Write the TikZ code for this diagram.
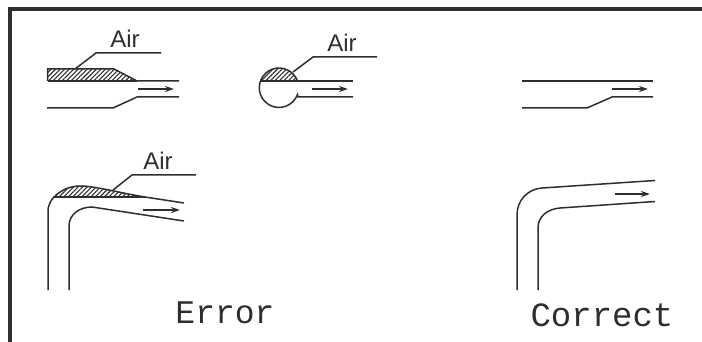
\documentclass[tikz,border=0pt]{standalone}
\usepackage{fontspec}
\setsansfont{Liberation Sans}
\setmonofont{Liberation Mono}
\usetikzlibrary{arrows.meta,patterns.meta}
\definecolor{FrameClr}{rgb}{0.2,0.18,0.18}
\definecolor{PipeClr}{rgb}{0.18,0.18,0.18}
\tikzset{
  pipe/.style={line width=1.5pt,color=PipeClr},
  flow/.style={line width=1.5pt,color=PipeClr,-{Stealth[length=9pt,width=6pt]}},
  hatched/.style={pattern={Lines[angle=45,distance=3.2pt,line width=1.1pt]},pattern color=PipeClr},
  airlbl/.style={font=\sffamily\fontsize{24}{24}\selectfont,color=PipeClr,inner sep=0pt},
  caption/.style={font=\ttfamily\fontsize{33}{33}\selectfont,color=PipeClr,inner sep=0pt},
}
\begin{document}
\begin{tikzpicture}[x=1pt,y=-1pt]
\useasboundingbox (0,0) rectangle (702,342);

\draw[line width=3.5pt,color=FrameClr] (10,342) -- (10,9) -- (702,9);

% straight inlet, top left
\coordinate (A1) at (47.5,69);
\coordinate (A2) at (114,69);
\coordinate (A3) at (137,81);
\coordinate (A4) at (47.5,81);
\coordinate (A5) at (179,81);
\coordinate (A6) at (47,108);
\coordinate (A7) at (113,108);
\coordinate (A8) at (137,97);
\coordinate (A9) at (179,97);
\fill[hatched] (A1) -- (A2) -- (A3) -- (A4) -- cycle;
\draw[pipe] (A4) -- (A1) -- (A2) -- (A3) -- (A5);
\draw[pipe] (A4) -- (A3);
\draw[pipe] (A6) -- (A7) -- (A8) -- (A9);
\coordinate (AF1) at (138,89);
\coordinate (AF2) at (174,89);
\draw[flow] (AF1) -- (AF2);
\coordinate (AL1) at (75,69);
\coordinate (AL2) at (96,53);
\coordinate (AL3) at (161,53);
\draw[pipe] (AL1) -- (AL2) -- (AL3);
\node[airlbl] (AirA) at (125,39) {Air};

% round bulge, top middle
\coordinate (B1) at (260.5,81);
\coordinate (B2) at (297.5,81);
\coordinate (B3) at (353,81);
\coordinate (B4) at (298,97);
\coordinate (B5) at (353,97);
\fill[hatched] (B1) arc[start angle=-160,end angle=-20,radius=19.7] -- cycle;
\draw[pipe] (B2) arc[start angle=-20,end angle=-340,radius=19.7] -- (B4) -- (B5);
\draw[pipe] (B1) -- (B3);
\coordinate (BF1) at (312,89);
\coordinate (BF2) at (348,89);
\draw[flow] (BF1) -- (BF2);
\coordinate (BL1) at (293,72);
\coordinate (BL2) at (313,57);
\coordinate (BL3) at (377,57);
\draw[pipe] (BL1) -- (BL2) -- (BL3);
\node[airlbl] (AirB) at (342,43) {Air};

% bend with trapped air, lower left
\coordinate (C1) at (48,290);
\coordinate (C2) at (48,209);
\coordinate (C3) at (54,197);
\coordinate (C4) at (80,186);
\coordinate (C5) at (145,197);
\coordinate (C6) at (184,203);
\coordinate (C7) at (69,290);
\coordinate (C8) at (69,226);
\coordinate (C9) at (92,207);
\coordinate (C10) at (184,221);
\fill[hatched] (C3) .. controls (61,190) and (70,186) .. (C4) .. controls (95,186) and (120,193) .. (C5) -- cycle;
\draw[pipe] (C1) -- (C2) .. controls (49,204) and (51,200) .. (C3) .. controls (61,190) and (70,186) .. (C4) .. controls (95,186) and (120,193) .. (C5) -- (C6);
\draw[pipe] (C3) -- (C5);
\draw[pipe] (C7) -- (C8) .. controls (69,214) and (80,207) .. (C9) -- (C10);
\coordinate (CF1) at (143,210);
\coordinate (CF2) at (180,210);
\draw[flow] (CF1) -- (CF2);
\coordinate (CL1) at (113,190);
\coordinate (CL2) at (132,175);
\coordinate (CL3) at (196,175);
\draw[pipe] (CL1) -- (CL2) -- (CL3);
\node[airlbl] (AirC) at (158,161) {Air};

% correct inlet, top right
\coordinate (D1) at (522,81);
\coordinate (D2) at (653,81);
\coordinate (D3) at (522,108);
\coordinate (D4) at (587,108);
\coordinate (D5) at (612,97);
\coordinate (D6) at (653,97);
\draw[pipe] (D1) -- (D2);
\draw[pipe] (D3) -- (D4) -- (D5) -- (D6);
\coordinate (DF1) at (612,89);
\coordinate (DF2) at (648,89);
\draw[flow] (DF1) -- (DF2);

% correct bend, lower right
\coordinate (E1) at (517,290);
\coordinate (E2) at (517,215);
\coordinate (E3) at (542,188);
\coordinate (E4) at (655,180.5);
\coordinate (E5) at (538,290);
\coordinate (E6) at (538,228);
\coordinate (E7) at (560,208);
\coordinate (E8) at (655,201.5);
\draw[pipe] (E1) -- (E2) .. controls (517,200) and (528,189) .. (E3) -- (E4);
\draw[pipe] (E5) -- (E6) .. controls (538,216) and (548,209) .. (E7) -- (E8);
\coordinate (EF1) at (615,194);
\coordinate (EF2) at (650,194);
\draw[flow] (EF1) -- (EF2);

\node[caption] (ErrorLbl) at (225,312.5) {Error};
\node[caption,font=\ttfamily\fontsize{34}{34}\selectfont] (CorrectLbl) at (602,315) {Correct};
\end{tikzpicture}
\end{document}
